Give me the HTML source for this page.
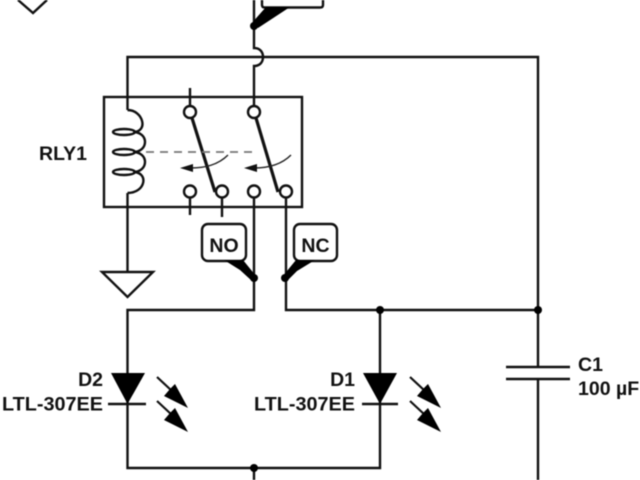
<!DOCTYPE html>
<html>
<head>
<meta charset="utf-8">
<style>
html,body{margin:0;padding:0;background:#fff;width:640px;height:480px;overflow:hidden}
svg{display:block;filter:blur(0.4px)}
text{font-family:"Liberation Sans",sans-serif;font-weight:bold;font-size:19.500px;fill:#111}
</style>
</head>
<body>
<svg width="640" height="480" viewBox="0 0 640 480" xmlns="http://www.w3.org/2000/svg">
<rect width="640" height="480" fill="#fff"/>
<g fill="none" stroke="#111" stroke-width="2.400">
  <!-- top fragments -->
  <path d="M18 0L33 13L47 0"/>
  <path d="M262 0V5Q262 7.500 265 7.500H320Q323 7.500 323 5V0"/>
  <!-- main wires -->
  <path d="M127.500 110V57H538V367"/>
  <path d="M254 0V48C260 48 263 52 263 57C263 62 260 66 254 66V106"/>
  <rect x="104" y="97" width="198" height="110"/>
  <!-- coil -->
  <path d="M127.500 110C143 110 149 132 133 132C149 132 149 152 133 152C149 152 149 172 133 172C149 172 146 193 127.500 193"/>
  <ellipse cx="124" cy="132" rx="11" ry="3"/>
  <ellipse cx="124" cy="152" rx="11" ry="3"/>
  <ellipse cx="124" cy="172" rx="11" ry="3"/>
  <path d="M127.500 193V272"/>
  <path d="M102 272H153L127.500 297Z"/>
  <!-- stubs -->
  <path d="M190 88V106M190 198V215M222 198V217M254 198V310H127.500V468H380V310M286 198V310H538M538 379V480M254 468V480"/>
  <!-- contacts -->
  <circle cx="190" cy="112" r="6"/>
  <circle cx="254" cy="112" r="6"/>
  <circle cx="190" cy="191.500" r="6"/>
  <circle cx="222" cy="191.500" r="6"/>
  <circle cx="254" cy="191.500" r="6"/>
  <circle cx="286" cy="191.500" r="6"/>
  <!-- capacitor -->
  <path d="M506 367H570M506 379H570"/>
  <!-- diode bars -->
  <path d="M108 404H146M362 404H398"/>
  <!-- label boxes -->
  <rect x="202" y="224" width="44" height="37" rx="6" fill="#fff"/>
  <rect x="294" y="224" width="43" height="37" rx="6" fill="#fff"/>
</g>
<!-- switch blades -->
<path d="M192 118L215 192M256 118L278 192" stroke="#111" stroke-width="3.200" fill="none"/>
<!-- mechanical link -->
<path d="M146 152H254" stroke="#777" stroke-width="1.800" stroke-dasharray="8 6" fill="none"/>
<path d="M228 155C218 165 205 168 190 168M291 155C281 165 268 168 254 168" stroke="#222" stroke-width="1.400" fill="none"/>
<path d="M180 168L193 164V172ZM244 168L257 164V172Z" fill="#111"/>
<!-- filled shapes -->
<g fill="#000">
  <path d="M111 373H145L127.500 404Z"/>
  <path d="M363 373H397L380 404Z"/>
  <path d="M224 260H243L256 276L252 281L240 270Z"/>
  <path d="M296 260H315L297 271L287 281L282 277Z"/>
  <path d="M266 7H290L258 28L251 24Z"/>
  <circle cx="254" cy="278" r="4"/>
  <circle cx="285" cy="278" r="4"/>
  <circle cx="254" cy="26" r="4"/>
  <circle cx="538" cy="310" r="4"/>
  <circle cx="380" cy="310" r="4"/>
  <circle cx="254" cy="468" r="4"/>
</g>
<!-- light arrows -->
<g stroke="#111" stroke-width="2.200" fill="none">
  <path d="M157 377L172 391M157 401L172 415M410 377L425 391M410 401L425 415"/>
</g>
<g fill="#000">
  <path d="M188 408L164 396L170 389L175 384Z"/>
  <path d="M188 432L164 420L170 413L175 408Z"/>
  <path d="M441 408L417 396L423 389L428 384Z"/>
  <path d="M441 432L417 420L423 413L428 408Z"/>
</g>
<!-- labels -->
<text x="39" y="160" textLength="48" lengthAdjust="spacingAndGlyphs">RLY1</text>
<text x="224" y="252" text-anchor="middle">NO</text>
<text x="315.500" y="252" text-anchor="middle">NC</text>
<text x="103" y="386" text-anchor="end">D2</text>
<text x="2" y="410.500" textLength="101" lengthAdjust="spacingAndGlyphs">LTL-307EE</text>
<text x="355" y="386" text-anchor="end">D1</text>
<text x="254" y="410.500" textLength="101" lengthAdjust="spacingAndGlyphs">LTL-307EE</text>
<text x="578" y="371">C1</text>
<text x="578" y="395">100 µF</text>
</svg>
</body>
</html>
